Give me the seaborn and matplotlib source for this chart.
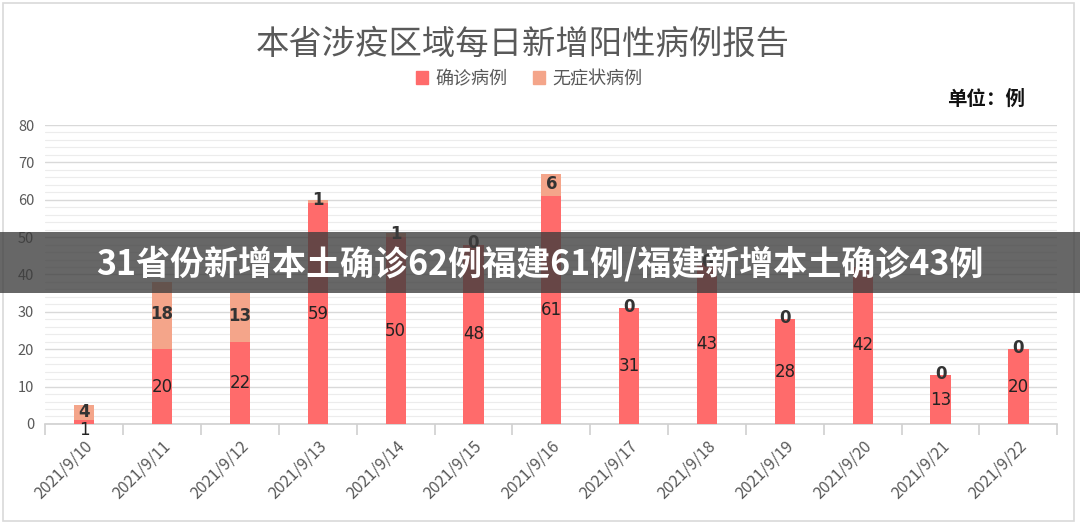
import matplotlib
matplotlib.use("Agg")
import matplotlib.pyplot as plt
from matplotlib.ticker import MultipleLocator, FixedLocator
from matplotlib.patches import Rectangle
import seaborn as sns
import pandas as pd

# data
dates = ["2021/9/10", "2021/9/11", "2021/9/12", "2021/9/13", "2021/9/14",
         "2021/9/15", "2021/9/16", "2021/9/17", "2021/9/18", "2021/9/19",
         "2021/9/20", "2021/9/21", "2021/9/22"]
confirmed = [1, 20, 22, 59, 50, 48, 61, 31, 43, 28, 42, 13, 20]
asymptomatic = [4, 18, 13, 1, 1, 0, 6, 0, 0, 0, 0, 0, 0]

title = "本省涉疫区域每日新增阳性病例报告"
banner = "31省份新增本土确诊62例福建61例/福建新增本土确诊43例"

c_conf = "#FF6B6B"
c_asym = "#F4A58A"
grey = "#595959"

sns.set_theme(style="white")
plt.rcParams["font.family"] = ["Noto Sans CJK SC", "DejaVu Sans"]

df = pd.DataFrame({"date": dates, "confirmed": confirmed, "asymptomatic": asymptomatic})
df["total"] = df["confirmed"] + df["asymptomatic"]

fig = plt.figure(figsize=(10.8, 5.27), dpi=100)
ax = fig.add_axes([0.042, 0.1955, 0.937, 0.5673])

# stacked: total in light colour, confirmed drawn over it
sns.barplot(data=df, x="date", y="total", color=c_asym, width=0.26,
            saturation=1, ax=ax, linewidth=0, zorder=3)
sns.barplot(data=df, x="date", y="confirmed", color=c_conf, width=0.26,
            saturation=1, ax=ax, linewidth=0, zorder=3)

ax.set_ylim(0, 80)
ax.set_xlim(-0.5, len(dates) - 0.5)
ax.yaxis.set_major_locator(MultipleLocator(10))
ax.yaxis.set_minor_locator(MultipleLocator(2))
ax.grid(axis="y", which="major", color="#d9d9d9", lw=1.0, zorder=0)
ax.grid(axis="y", which="minor", color="#ececec", lw=0.8, zorder=0)
ax.set_axisbelow(True)
ax.set_xlabel("")
ax.set_ylabel("")
for s in ["left", "right", "top"]:
    ax.spines[s].set_visible(False)
ax.spines["bottom"].set_color("#d0d0d0")
ax.spines["bottom"].set_linewidth(1.2)

ax.tick_params(axis="y", which="both", length=0, labelsize=10.5, labelcolor=grey, pad=8)
ax.xaxis.set_minor_locator(FixedLocator([i - 0.5 for i in range(len(dates) + 1)]))
ax.tick_params(axis="x", which="major", length=0, labelsize=11.5, labelcolor=grey, pad=10)
ax.tick_params(axis="x", which="minor", length=8, width=1.2, color="#d0d0d0", bottom=True)
plt.setp(ax.get_xticklabels(), rotation=45, ha="right", rotation_mode="anchor")

# value labels
for i, (c, a) in enumerate(zip(confirmed, asymptomatic)):
    yc = c / 2 if c > 2 else -1.5
    ax.text(i, yc, str(c), ha="center", va="center", fontsize=12,
            color="#222222", zorder=5, family=["DejaVu Sans"])
    ax.text(i, c + a / 2 + 0.3, str(a), ha="center", va="center", fontsize=12,
            color="#333333", zorder=5, family=["DejaVu Sans"], fontweight="bold")

# legend
legend_handles = [Rectangle((0, 0), 1, 1, color=c_conf), Rectangle((0, 0), 1, 1, color=c_asym)]
fig.legend(legend_handles, ["确诊病例", "无症状病例"],
           loc="center", bbox_to_anchor=(0.49, 0.85), ncol=2, frameon=False,
           fontsize=13, handlelength=0.7, handleheight=0.7, columnspacing=1.4,
           handletextpad=0.4, labelcolor=grey)

fig.text(0.484, 0.915, title, ha="center", va="center", fontsize=24,
         color=grey, fontweight="light")
fig.text(0.913, 0.812, "单位：例", ha="center", va="center", fontsize=14,
         color="#111111", fontweight="bold")

# outer frame
fig.patches.append(Rectangle((0.003, 0.012), 0.991, 0.982, transform=fig.transFigure,
                             fill=False, edgecolor="#d9d9d9", lw=1.2))

# dark banner with headline
fig.patches.append(Rectangle((0, 0.444), 1, 0.116, transform=fig.transFigure,
                             facecolor="#3c3c3c", alpha=0.78, edgecolor="none", zorder=10))
fig.text(0.5, 0.499, banner, ha="center", va="center", fontsize=24.5,
         color="white", fontweight="bold", zorder=11)

fig.savefig("out.png", dpi=100, facecolor="white")
